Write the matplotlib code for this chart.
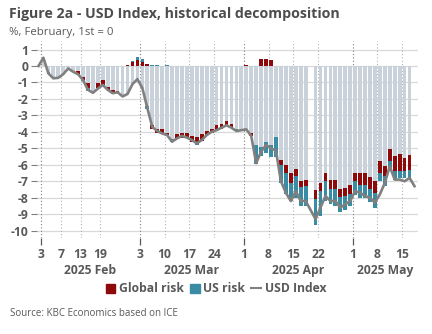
import numpy as np
import pandas as pd
import matplotlib
matplotlib.use('Agg')
import matplotlib.pyplot as plt
from matplotlib.patches import Patch
from matplotlib.lines import Line2D
from matplotlib.transforms import blended_transform_factory

plt.rcParams['font.family'] = ['Open Sans', 'DejaVu Sans']
plt.rcParams['axes.unicode_minus'] = False

# business days, 31 Jan (base, = 0) to 19 May 2025
dates = pd.bdate_range('2025-01-31', '2025-05-19')
nan = np.nan

# USD index, % vs 1 Feb
usd_index = [0.0,
             0.5, -0.45, -0.75, -0.72, -0.5, -0.15, -0.35, -0.5, -0.85, -1.45,
             -1.63, -1.38, -1.15, -1.45, -1.65, -1.6, -1.85, -1.7, -1.1, -0.8,
             -1.35, -2.55, -3.7, -3.95, -4.1, -4.2, -4.6, -4.4, -4.25, -4.35,
             -4.5, -4.7, -4.5, -4.2, -4.0, -3.9, -3.75, -3.6, -3.75, -3.95,
             -3.9, -3.85, -4.25, -5.9, -5.2, -4.8, -5.0, -5.15, -7.0, -7.7,
             -8.2, -7.6, -8.2, -8.2, nan, -9.3, -8.6, -7.9, -8.2, -8.2,
             -8.6, -8.4, -8.2, -7.6, -7.7, -7.9, -8.0, -8.3, -7.8, -7.1,
             -6.1, -6.9, -6.9, -7.0, -6.8, -7.3]

# other / residual (grey bars)
other = [nan,
         0.35, -0.35, -0.7, -0.7, -0.5, -0.15, -0.3, -0.3, -0.7, -1.05,
         -1.5, -1.05, -0.85, -1.3, -1.45, -1.5, -1.8, -1.7, -1.1, -0.8,
         -1.35, -2.45, -3.6, -3.85, -3.85, -4.1, -4.45, -4.15, -4.05, -4.05,
         -4.25, -4.3, -4.15, -3.95, -3.85, -3.6, -3.5, -3.35, -3.5, -3.85,
         -3.85, -3.85, -4.1, -4.8, -4.9, -4.6, -4.8, -4.3, -5.7, -6.0,
         -6.5, -6.25, -7.0, -6.9, nan, -7.55, -7.1, -6.5, -6.9, -6.95,
         -7.5, -7.4, -7.25, -6.5, -6.5, -6.5, -6.75, -7.0, -5.8, -6.05,
         -5.05, -5.45, -5.35, -5.6, -5.4, nan]

global_risk = [nan,
               0.15, 0, 0, 0, 0, 0, -0.05, -0.2, -0.15, -0.3,
               0, -0.3, -0.3, -0.15, -0.2, -0.1, 0, 0.05, 0.25, 0.35,
               0.25, 0.1, -0.25, -0.25, -0.3, -0.1, 0, -0.3, -0.3, -0.3,
               -0.35, -0.45, -0.4, -0.25, -0.2, -0.3, -0.3, -0.25, -0.25, 0,
               0, 0.05, -0.15, 0, 0.4, 0.45, 0.35, 0, -0.3, -0.5,
               -0.6, -0.45, -0.35, -0.4, nan, -0.55, -0.5, -0.5, -0.6, -0.55,
               -0.45, -0.5, -0.5, -0.5, -0.7, -0.7, -0.7, -0.7, -0.7, -0.65,
               -0.7, -0.95, -1.0, -0.75, -0.9, nan]

us_risk = [nan,
           0, -0.1, -0.05, 0, 0, 0, 0, -0.05, -0.05, -0.15,
           -0.1, 0, 0, 0, -0.05, 0, 0, 0, 0.05, 0.2,
           0.2, -0.15, 0.05, 0.08, 0, 0.05, -0.15, 0, 0, 0,
           0, -0.05, 0, 0, 0, 0, 0, 0, 0, -0.1,
           0, 0, 0, -1.15, -0.55, -0.7, -0.7, -1.2, -1.1, -1.3,
           -1.1, -1.3, -1.15, -1.2, nan, -1.55, -1.5, -1.2, -0.9, -1.0,
           -0.95, -0.85, -0.75, -0.85, -0.8, -0.85, -0.8, -0.95, -0.5, -0.6,
           -0.6, -0.5, -0.45, -0.45, -0.5, nan]

grey = '#c9d1db'
red = '#8e0a0a'
teal = '#3a8ca4'
txt = '#595959'

x = np.arange(len(dates)) - 1  # 0 = 3 Feb

fig = plt.figure(figsize=(4.32, 3.34), dpi=100)
ax = fig.add_axes([0.0845, 0.2874, 0.883, 0.589])

# stacked bars, positives up and negatives down
pos = np.zeros(len(x))
neg = np.zeros(len(x))
for vals, col in [(other, grey), (global_risk, red), (us_risk, teal)]:
    v = np.array(vals, dtype=float)
    ok = ~np.isnan(v) & (v != 0)
    b = np.where(v > 0, pos, neg)
    ax.bar(x[ok], v[ok], bottom=b[ok], width=0.75, color=col,
           linewidth=0, zorder=2)
    vv = np.nan_to_num(v)
    pos = pos + np.where(vv > 0, vv, 0)
    neg = neg + np.where(vv < 0, vv, 0)

line = np.array(usd_index, dtype=float)
m = ~np.isnan(line)
ax.plot(x[m], line[m], color='#808080', lw=1.9, zorder=3)

ax.set_ylim(-10.45, 1.5)
ax.set_xlim(-1.4, 75.7)
yt = list(range(1, -11, -1))
ax.set_yticks(yt)
ax.set_yticklabels([str(t) for t in yt], fontweight='bold', color=txt,
                   fontsize=8.7)
ax.tick_params(axis='y', length=4, width=0.8, color='#7f7f7f', pad=2)
for t in yt:
    ax.axhline(t, color='#d9d9d9', lw=0.9, zorder=0)

# date ticks at category edges
tick_days = ['2025-02-03', '2025-02-07', '2025-02-13', '2025-02-19',
             '2025-03-03', '2025-03-10', '2025-03-17', '2025-03-24',
             '2025-04-01', '2025-04-08', '2025-04-15', '2025-04-22',
             '2025-05-01', '2025-05-08', '2025-05-15']
month_starts = ['2025-02-03', '2025-03-03', '2025-04-01', '2025-05-01']
pos_of = {d.strftime('%Y-%m-%d'): i - 1 for i, d in enumerate(dates)}
tpos = [pos_of[d] - 0.5 for d in tick_days]
mpos = [pos_of[d] - 0.5 for d in month_starts]
ax.set_xticks(mpos)
ax.set_xticks(tpos, minor=True)
ax.set_xticklabels([])
ax.tick_params(axis='x', which='major', length=5, width=0.9,
               color='#595959')
ax.tick_params(axis='x', which='minor', length=0)
trans = blended_transform_factory(ax.transData, ax.transAxes)
for d, p in zip(tick_days, tpos):
    ax.text(p, -0.086, str(int(d[-2:])), transform=trans, ha='center',
            va='center', fontsize=8.7, fontweight='bold', color=txt)
    dark = d in month_starts
    ax.axvline(p, color='#7f7f7f' if dark else '#b0b0b0', lw=0.8,
               ls=(0, (1, 2)), zorder=1)

months = ['2025 Feb', '2025 Mar', '2025 Apr', '2025 May']
edges = mpos + [75.7]
for lab, a, b in zip(months, edges[:-1], edges[1:]):
    ax.text((a + b) / 2, -0.163, lab, transform=trans, ha='center',
            va='center', fontsize=8.7, fontweight='bold', color=txt)

for s in ax.spines.values():
    s.set_visible(False)

fig.text(0.021, 1 - 14 / 334, 'Figure 2a - USD Index, historical decomposition',
         fontsize=10.2, fontweight='bold', color='#4d4d4d', va='center')
fig.text(0.021, 1 - 32 / 334, '%, February, 1st = 0', fontsize=8.2,
         color=txt, va='center')
fig.text(0.023, 1 - 314 / 334, 'Source: KBC Economics based on ICE',
         fontsize=7, color=txt, va='center')

handles = [Patch(color=red), Patch(color=teal),
           Line2D([], [], color='#808080', lw=1.5)]
leg = fig.legend(handles, ['Global risk', 'US risk', 'USD Index'],
                 loc='center', bbox_to_anchor=(0.5, 1 - 289 / 334), ncol=3,
                 frameon=False, handlelength=0.8, handleheight=0.8,
                 handletextpad=0.3, columnspacing=0.5,
                 prop={'weight': 'bold', 'size': 8.7})
for t in leg.get_texts():
    t.set_color(txt)

fig.savefig('out.png', dpi=100)
